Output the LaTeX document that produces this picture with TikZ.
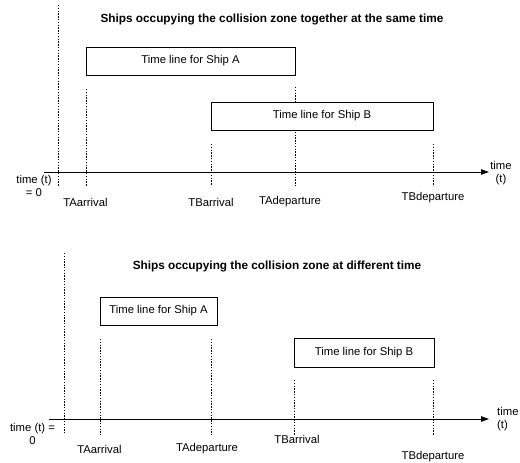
\documentclass[tikz,border=0pt]{standalone}
\usepackage{fontspec}
\setmainfont{Liberation Sans}
\usetikzlibrary{arrows.meta}
\begin{document}
\begin{tikzpicture}[x=1pt,y=-1pt,
  every node/.style={font=\fontsize{11.3}{13.8}\selectfont, inner sep=0pt},
  shipbox/.style={draw, line width=0.8pt, fill=white},
  title/.style={font=\fontsize{11.8}{14}\selectfont\bfseries},
  lbl/.style={align=center},
  dotline/.style={line width=0.8pt, dash pattern=on 1.4pt off 1.4pt},
  axis/.style={line width=0.9pt, -{Triangle[length=8pt,width=5.5pt]}}]
\useasboundingbox (0,0) rectangle (520,463);
% ---------- top diagram ----------
\node[title] (t1) at (272,19) {Ships occupying the collision zone together at the same time};
\coordinate (ax1s) at (44,172);
\coordinate (ax1e) at (489,172);
\coordinate (z1t) at (58,5);   \coordinate (z1b) at (58,186);
\coordinate (aa1t) at (86,89); \coordinate (aa1b) at (86,186);
\coordinate (ad1t) at (295,87); \coordinate (ad1b) at (295,186);
\coordinate (ba1t) at (211,144); \coordinate (ba1b) at (211,186);
\coordinate (bd1t) at (433,144); \coordinate (bd1b) at (433,186);
\draw[dotline] (z1t) -- (z1b);
\draw[dotline] (aa1t) -- (aa1b);
\draw[dotline] (ad1t) -- (ad1b);
\draw[dotline] (ba1t) -- (ba1b);
\draw[dotline] (bd1t) -- (bd1b);
\draw[axis] (ax1s) -- (ax1e);
\node[shipbox, minimum width=209, minimum height=28] (a1) at (190.5,61) {Time line for Ship A};
\node[shipbox, minimum width=222, minimum height=28] (b1) at (322,116) {Time line for Ship B};
\node[lbl] (t0a) at (34,186) {time (t)\\= 0};
\node[lbl] (tr1) at (501,173) {time\\(t)};
\node (l1) at (85.5,202) {TAarrival};
\node (l2) at (211,202) {TBarrival};
\node (l3) at (290,202) {TAdeparture};
\node (l4) at (433,198) {TBdeparture};
% ---------- bottom diagram ----------
\node[title] (t2) at (277,266) {Ships occupying the collision zone at different time};
\coordinate (ax2s) at (49,419);
\coordinate (ax2e) at (489,419);
\coordinate (z2t) at (64,253);   \coordinate (z2b) at (64,433);
\coordinate (aa2t) at (100,339); \coordinate (aa2b) at (100,435);
\coordinate (ad2t) at (211,339); \coordinate (ad2b) at (211,435);
\coordinate (ba2t) at (294,380); \coordinate (ba2b) at (294,435);
\coordinate (bd2t) at (433,380); \coordinate (bd2b) at (433,435);
\draw[dotline] (z2t) -- (z2b);
\draw[dotline] (aa2t) -- (aa2b);
\draw[dotline] (ad2t) -- (ad2b);
\draw[dotline] (ba2t) -- (ba2b);
\draw[dotline] (bd2t) -- (bd2b);
\draw[axis] (ax2s) -- (ax2e);
\node[shipbox, minimum width=117, minimum height=28] (a2) at (158.5,311) {Time line for Ship A};
\node[shipbox, minimum width=140, minimum height=29] (b2) at (364,352.5) {Time line for Ship B};
\node[lbl] (t0b) at (32.5,434) {time (t) =\\0};
\node[align=left, anchor=west] (tr2) at (497,419) {time\\(t)};
\node (m1) at (99.5,449) {TAarrival};
\node (m2) at (207,449) {TAdeparture};
\node (m3) at (297,439) {TBarrival};
\node (m4) at (433,457) {TBdeparture};
\end{tikzpicture}
\end{document}
